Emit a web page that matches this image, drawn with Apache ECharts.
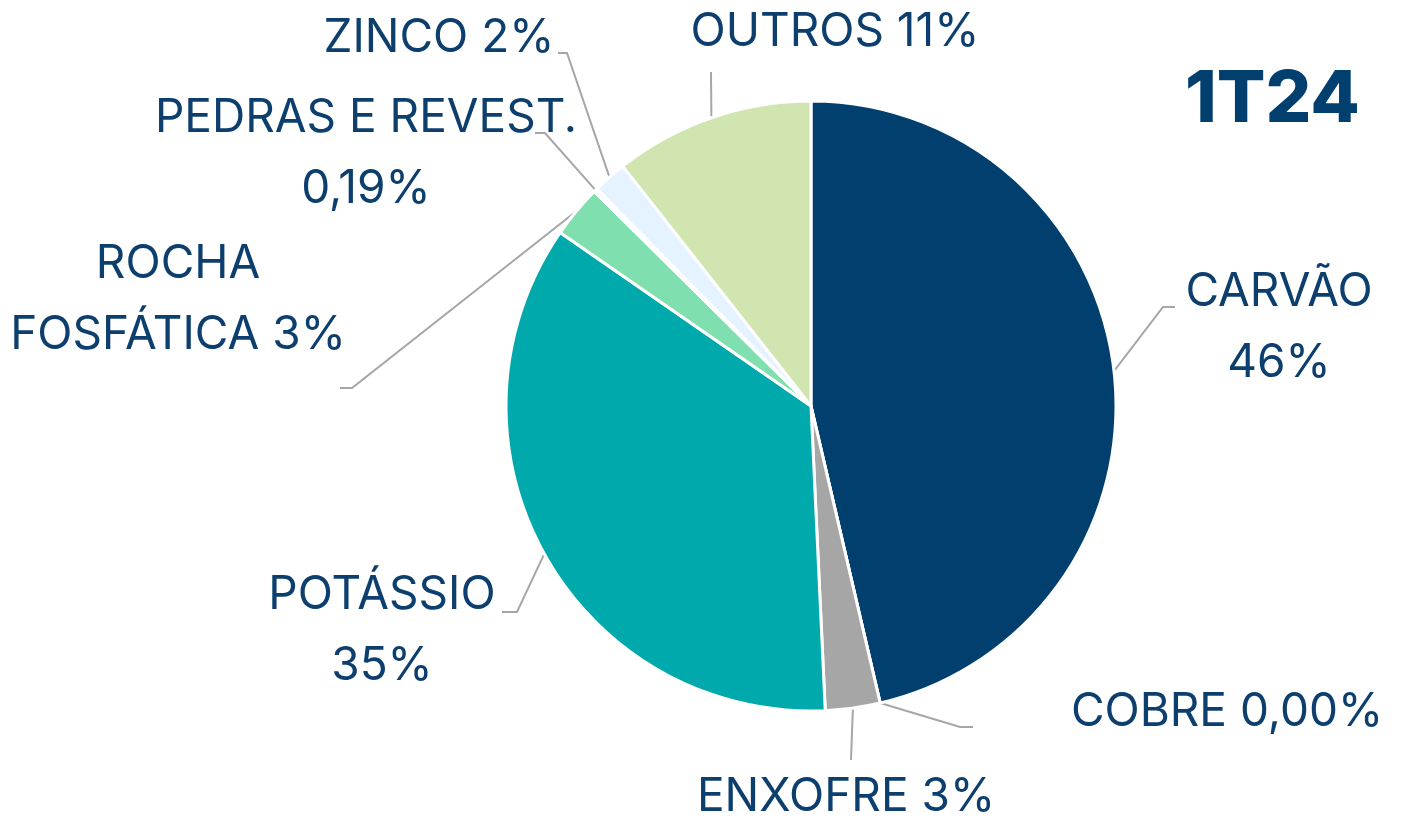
<!DOCTYPE html>
<html>
<head>
<meta charset="utf-8">
<title>1T24</title>
<script src="https://cdn.jsdelivr.net/npm/echarts@6/dist/echarts.min.js"></script>
<style>
  html, body { margin: 0; padding: 0; background: #fff; }
  #chart { width: 1417px; height: 818px; }
</style>
</head>
<body>
<div id="chart"></div>
<script>
// data, clockwise from 12 o'clock
const categories = ['CARVÃO', 'COBRE', 'ENXOFRE', 'POTÁSSIO', 'ROCHA FOSFÁTICA', 'PEDRAS E REVEST.', 'ZINCO', 'OUTROS']
const shares = [46.4, 0, 2.9, 35.4, 2.8, 0.19, 1.8, 10.6]
const labelTexts = ['CARVÃO\n46%', 'COBRE 0,00%', 'ENXOFRE 3%', 'POTÁSSIO\n35%', 'ROCHA\nFOSFÁTICA 3%', 'PEDRAS E REVEST.\n0,19%', 'ZINCO 2%', 'OUTROS 11%']

const colors = ['#003f6e', '#e46c0a', '#a6a6a6', '#00aaac', '#80dfaf', '#c6e0ff', '#e5f2ff', '#d0e5b0']
const textColor = '#0d3f6e'
const font = 'Inter'

// where each label sits and how its leader line bends
const labelSpots = [
  { x: 1279, y: 328, elbow: [1163, 307], end: [1175, 307] },
  { x: 1227, y: 712, elbow: [960, 727], end: [973, 727] },
  { x: 846, y: 797, elbow: [851, 760], end: [851, 760] },
  { x: 382, y: 631, elbow: [517, 612], end: [502, 612] },
  { x: 178, y: 300, elbow: [352, 388], end: [340, 388] },
  { x: 366, y: 154, elbow: [545, 133], end: [535, 133] },
  { x: 439, y: 38, elbow: [567, 53], end: [558, 53] },
  { x: 835, y: 32, elbow: [711, 72], end: [711, 72] },
]

const chart = echarts.init(document.getElementById('chart'))

chart.setOption({
  backgroundColor: '#fff',
  animation: false,
  title: {
    text: '1T24',
    left: 1180,
    top: 59,
    textStyle: { fontFamily: font, fontSize: 72, fontWeight: 800, color: '#003f6e' },
  },
  series: [
    {
      type: 'pie',
      center: [811, 406],
      radius: 305,
      startAngle: 90,
      clockwise: true,
      minShowLabelAngle: -1,
      stillShowZeroSum: true,
      itemStyle: { borderColor: '#fff', borderWidth: 3 },
      label: {
        show: true,
        position: 'outside',
        fontFamily: font,
        fontSize: 46,
        fontWeight: 400,
        lineHeight: 71,
        color: textColor,
        align: 'center',
        formatter: p => labelTexts[p.dataIndex],
      },
      labelLine: {
        show: true,
        length: 20,
        length2: 10,
        lineStyle: { color: '#a6a6a6', width: 2 },
      },
      labelLayout: params => {
        const s = labelSpots[params.dataIndex]
        const start = params.labelLinePoints ? params.labelLinePoints[0] : s.elbow
        return {
          x: s.x,
          y: s.y,
          align: 'center',
          verticalAlign: 'middle',
          labelLinePoints: [start, s.elbow, s.end],
        }
      },
      emphasis: { disabled: true },
      data: categories.map((name, i) => ({
        name,
        value: shares[i],
        itemStyle: { color: colors[i] },
      })),
    },
  ],
})
</script>
</body>
</html>
